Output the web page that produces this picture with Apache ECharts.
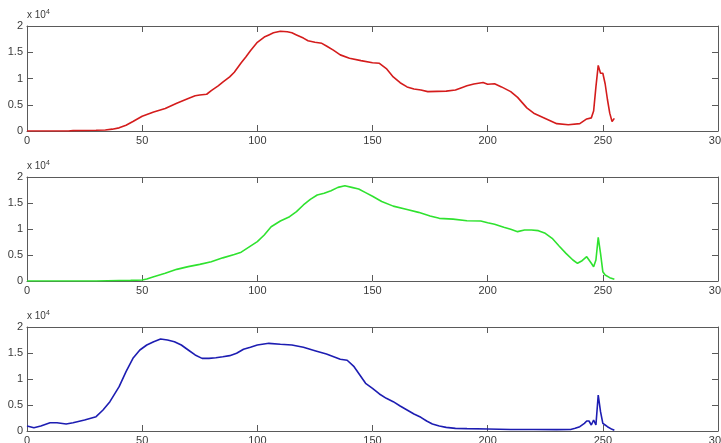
<!DOCTYPE html>
<html>
<head>
<meta charset="utf-8">
<script src="https://cdn.jsdelivr.net/npm/echarts@6/dist/echarts.min.js"></script>
<style>
  html, body { margin: 0; padding: 0; background: #fff; }
  #chart { width: 721px; height: 443px; }
</style>
</head>
<body>
<div id="chart"></div>
<script>
// histogram counts, [bin, count]
const redCounts = [
  [0, 0], [18, 0], [20, 80], [25, 100], [30, 130], [34, 200], [37, 350], [40, 600], [43, 1100], [46, 1800],
  [50, 2800], [55, 3600], [60, 4300], [65, 5300], [70, 6200], [73, 6700], [75, 6850], [78, 7000], [80, 7700],
  [83, 8600], [85, 9300], [88, 10300], [90, 11200], [93, 13000], [95, 14100], [97, 15300], [100, 16900],
  [103, 17900], [105, 18300], [107, 18700], [110, 19000], [113, 18900], [115, 18700], [117, 18300], [120, 17700],
  [122, 17200], [125, 16900], [128, 16700], [130, 16200], [133, 15400], [136, 14500], [140, 13850], [145, 13400],
  [150, 13000], [153, 12900], [156, 11900], [159, 10300], [162, 9200], [165, 8400], [168, 8000], [171, 7800],
  [174, 7500], [178, 7550], [182, 7600], [186, 7800], [189, 8300], [191, 8600], [194, 8950], [198, 9250],
  [200, 8900], [203, 9000], [206, 8400], [210, 7500], [213, 6400], [217, 4400], [220, 3400], [225, 2400],
  [230, 1400], [235, 1200], [240, 1400], [243, 2300], [245, 2500], [246, 3800], [247, 8400], [248, 12500],
  [249, 11000], [250, 11000], [251, 9000], [252, 6000], [253, 3400], [254, 1800], [255, 2400]
];
const greenCounts = [
  [0, 0], [30, 0], [35, 60], [40, 100], [45, 120], [50, 200], [52, 400], [55, 830], [60, 1470], [65, 2240],
  [70, 2760], [75, 3200], [80, 3720], [85, 4450], [90, 5100], [93, 5550], [97, 6700], [100, 7560], [103, 8850],
  [106, 10440], [110, 11540], [114, 12370], [117, 13330], [120, 14620], [123, 15710], [126, 16540], [129, 16860],
  [132, 17370], [135, 18010], [138, 18300], [141, 18000], [144, 17700], [147, 17000], [150, 16300], [154, 15300],
  [159, 14400], [165, 13750], [170, 13200], [175, 12500], [179, 12050], [185, 11900], [191, 11600], [197, 11550],
  [200, 11200], [203, 10900], [207, 10320], [210, 9940], [213, 9490], [216, 9810], [219, 9810], [222, 9680],
  [225, 9170], [228, 8210], [231, 6730], [234, 5320], [237, 4040], [239, 3400], [241, 3900], [243, 4670],
  [245, 3400], [246, 2750], [247, 4040], [248, 8400], [249, 5320], [250, 1790], [251, 1150], [253, 640], [255, 330]
];
const blueCounts = [
  [0, 960], [3, 640], [6, 960], [10, 1600], [13, 1600], [17, 1350], [20, 1600], [25, 2120], [30, 2760],
  [33, 4040], [36, 5640], [40, 8530], [43, 11410], [46, 13970], [49, 15580], [52, 16540], [55, 17180],
  [58, 17690], [61, 17500], [64, 17180], [67, 16540], [70, 15580], [73, 14620], [76, 13970], [79, 13970],
  [82, 14100], [85, 14290], [88, 14490], [91, 14940], [94, 15710], [97, 16100], [100, 16540], [105, 16860],
  [110, 16670], [115, 16540], [120, 16090], [125, 15450], [130, 14810], [136, 13800], [139, 13600], [142, 12370],
  [144.5, 10770], [147, 9170], [150, 8210], [153, 7120], [156, 6280], [159, 5640], [162, 4810], [165, 4040],
  [168, 3270], [171, 2630], [173.5, 1920], [176, 1350], [179, 960], [182, 700], [186, 510], [191, 450],
  [200, 380], [210, 300], [220, 280], [230, 270], [236, 280], [238, 510], [240, 830], [242, 1470], [243, 1920],
  [244, 1920], [245, 1150], [246, 2120], [247, 1150], [248, 6920], [249, 3720], [250, 1470], [251, 1150],
  [252, 830], [254, 320], [255, 130]
];

const xTicks = [0, 300, 50];      // min, max, interval
const yTicks = [0, 20000, 5000];
const panels = [
  {data: redCounts, color: '#d41c1c', top: 26, height: 105},
  {data: greenCounts, color: '#2fe22f', top: 177, height: 104},
  {data: blueCounts, color: '#1d1db2', top: 327, height: 104}
];

const axisColor = '#5a5a5a';
const labelStyle = {fontFamily: 'Liberation Sans', fontSize: 11, color: '#3a3a3a'};

function makeX (gridIndex, position, showLabel){
    return {
        type: 'value', gridIndex, position,
        min: xTicks[0], max: xTicks[1], interval: xTicks[2],
        axisLine: {show: true, onZero: false, lineStyle: {color: axisColor, width: 1}},
        axisTick: {show: true, inside: true, length: 6, lineStyle: {color: axisColor}},
        axisLabel: Object.assign({show: showLabel, margin: 4}, labelStyle),
        splitLine: {show: false}
    };
}

function makeY (gridIndex, position, showLabel){
    return {
        type: 'value', gridIndex, position,
        min: yTicks[0], max: yTicks[1], interval: yTicks[2],
        axisLine: {show: true, onZero: false, lineStyle: {color: axisColor, width: 1}},
        axisTick: {show: true, inside: true, length: 6, lineStyle: {color: axisColor}},
        axisLabel: Object.assign({show: showLabel, margin: 4, formatter: v => String(v / 10000)}, labelStyle),
        splitLine: {show: false}
    };
}

const grid = [], xAxis = [], yAxis = [], series = [], graphic = [];
panels.forEach((p, i) => {
    // keep the plot box fixed; the "300" label is allowed to run off the page like in the original
    grid.push({left: 27, width: 691, top: p.top, height: p.height, containLabel: false, outerBoundsMode: 'none'});
    xAxis.push(makeX(i, 'bottom', true), makeX(i, 'top', false));
    yAxis.push(makeY(i, 'left', true), makeY(i, 'right', false));
    series.push({
        type: 'line',
        data: p.data,
        xAxisIndex: i * 2,
        yAxisIndex: i * 2,
        showSymbol: false,
        lineStyle: {color: p.color, width: 1.6},
        itemStyle: {color: p.color}
    });
    graphic.push({
        type: 'text',
        left: 27,
        top: p.top - 17,
        style: {
            text: 'x 10{sup|4}',
            fontFamily: 'Liberation Sans',
            fontSize: 10,
            fill: '#3a3a3a',
            rich: {sup: {fontSize: 7, verticalAlign: 'top', padding: [0, 0, 6, 0]}}
        }
    });
});

const chart = echarts.init(document.getElementById('chart'));
chart.setOption({
    animation: false,
    backgroundColor: '#fff',
    grid, xAxis, yAxis, series, graphic
});
</script>
</body>
</html>
